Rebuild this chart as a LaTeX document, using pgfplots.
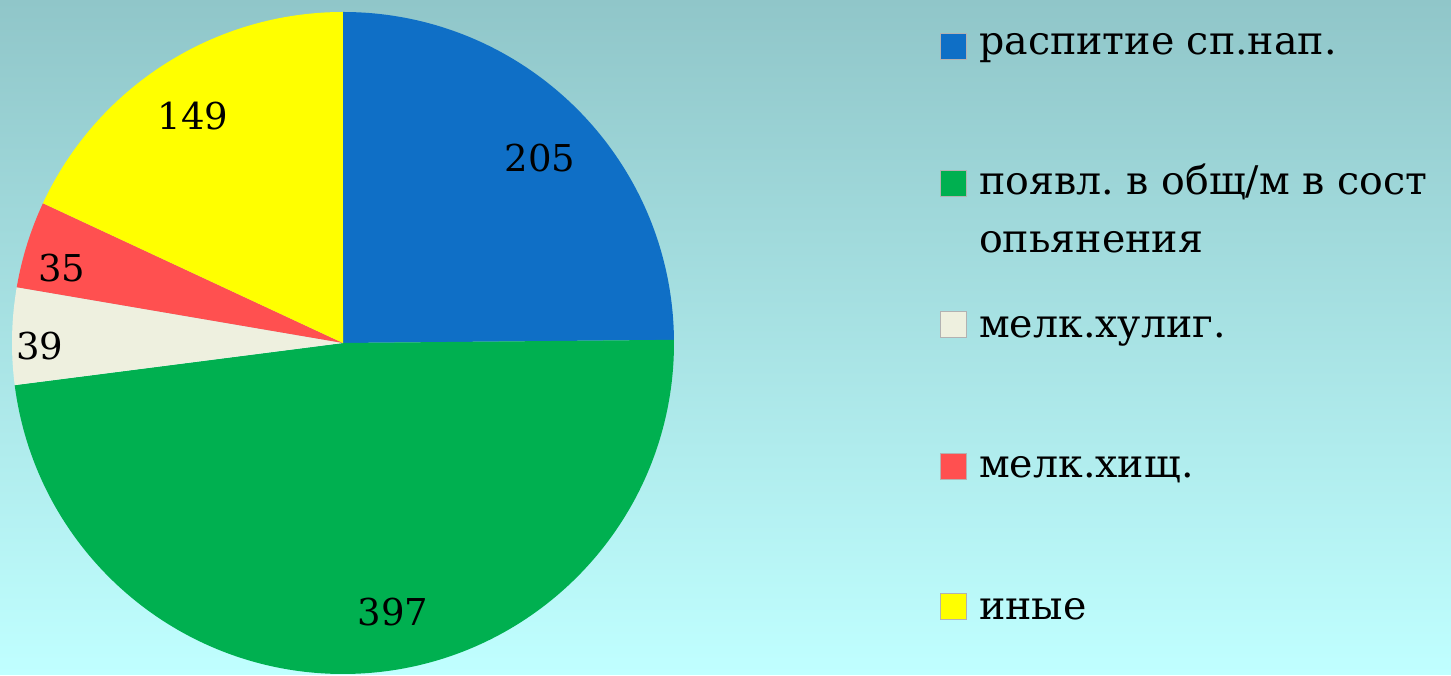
\documentclass[border=0pt]{standalone}
\usepackage{fontspec}
\setmainfont{DejaVu Serif}
\usepackage{pgfplots}
\usepackage{pgfplotstable}
\pgfplotsset{compat=1.18}
\definecolor{cBlue}{HTML}{0F6FC6}
\definecolor{cGreen}{HTML}{00B050}
\definecolor{cBeige}{HTML}{EEF0DF}
\definecolor{cRed}{HTML}{FF5050}
\definecolor{cYellow}{HTML}{FFFF00}
\definecolor{bgTop}{RGB}{144,198,201}
\definecolor{bgBot}{RGB}{192,255,255}
\pgfplotstableread{
label value
a 205
b 397
c 39
d 35
e 149
}\piedata
\frenchspacing
\begin{document}
\begin{tikzpicture}
\pgfplotstablegetelem{0}{value}\of\piedata\pgfmathsetmacro\vA{\pgfplotsretval}
\pgfplotstablegetelem{1}{value}\of\piedata\pgfmathsetmacro\vB{\pgfplotsretval}
\pgfplotstablegetelem{2}{value}\of\piedata\pgfmathsetmacro\vC{\pgfplotsretval}
\pgfplotstablegetelem{3}{value}\of\piedata\pgfmathsetmacro\vD{\pgfplotsretval}
\pgfplotstablegetelem{4}{value}\of\piedata\pgfmathsetmacro\vE{\pgfplotsretval}
\pgfmathsetmacro\tot{\vA+\vB+\vC+\vD+\vE}
\pgfmathsetmacro\aA{90}
\pgfmathsetmacro\aB{\aA-360*(\vA/\tot)}
\pgfmathsetmacro\aC{\aB-360*(\vB/\tot)}
\pgfmathsetmacro\aD{\aC-360*(\vC/\tot)}
\pgfmathsetmacro\aE{\aD-360*(\vD/\tot)}
\pgfmathsetmacro\aF{\aE-360*(\vE/\tot)}
\begin{axis}[x=1pt,y=1pt,xmin=0,xmax=1451,ymin=0,ymax=675,hide axis,clip=false,scale only axis]
\shade[top color=bgTop,bottom color=bgBot] (axis cs:0,0) rectangle (axis cs:1451,675);
\fill[cBlue] (axis cs:343,332) -- ++(\aA:331pt) arc[start angle=\aA,end angle=\aB,radius=331pt] -- cycle;
\fill[cGreen] (axis cs:343,332) -- ++(\aB:331pt) arc[start angle=\aB,end angle=\aC,radius=331pt] -- cycle;
\fill[cBeige] (axis cs:343,332) -- ++(\aC:331pt) arc[start angle=\aC,end angle=\aD,radius=331pt] -- cycle;
\fill[cRed] (axis cs:343,332) -- ++(\aD:331pt) arc[start angle=\aD,end angle=\aE,radius=331pt] -- cycle;
\fill[cYellow] (axis cs:343,332) -- ++(\aE:331pt) arc[start angle=\aE,end angle=\aF,radius=331pt] -- cycle;
\begin{scope}[font=\fontsize{37}{44}\selectfont]
\node at (axis cs:540,517) {205};
\node at (axis cs:393,63) {397};
\node at (axis cs:40,329) {39};
\node at (axis cs:62,407) {35};
\node at (axis cs:193,559) {149};
\end{scope}
\begin{scope}[every node/.style={anchor=base west,inner sep=0pt,font=\fontsize{39.5}{46}\selectfont}]
\filldraw[fill=cBlue,draw=gray!60,line width=0.6pt] (axis cs:940,616) rectangle (axis cs:966,642);
\filldraw[fill=cGreen,draw=gray!60,line width=0.6pt] (axis cs:940,479) rectangle (axis cs:966,505);
\filldraw[fill=cBeige,draw=gray!60,line width=0.6pt] (axis cs:940,338) rectangle (axis cs:966,364);
\filldraw[fill=cRed,draw=gray!60,line width=0.6pt] (axis cs:940,196) rectangle (axis cs:966,222);
\filldraw[fill=cYellow,draw=gray!60,line width=0.6pt] (axis cs:940,56) rectangle (axis cs:966,82);
\node at (axis cs:979,620) {распитие сп.нап.};
\node at (axis cs:979,480) {появл. в общ/м в сост};
\node at (axis cs:979,422) {опьянения};
\node at (axis cs:979,337) {мелк.хулиг.};
\node at (axis cs:979,197) {мелк.хищ.};
\node at (axis cs:979,55) {иные};
\end{scope}
\end{axis}
\end{tikzpicture}
\end{document}
